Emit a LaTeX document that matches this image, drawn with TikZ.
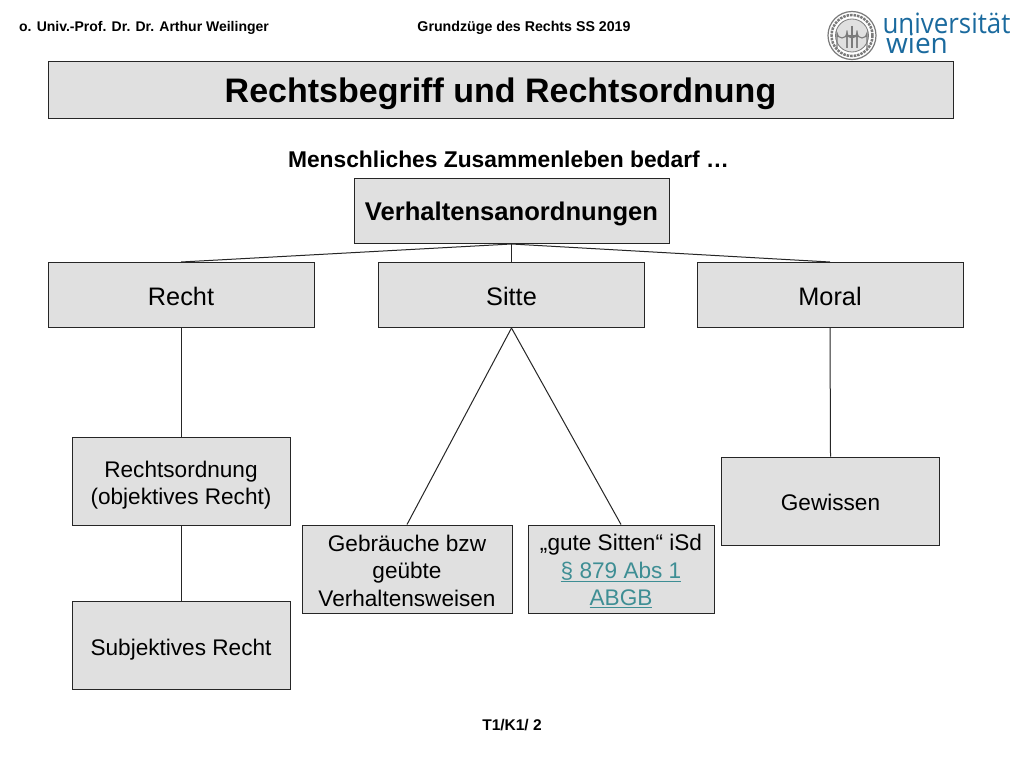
\documentclass[tikz,border=0pt]{standalone}
\usepackage{fontspec}
\setmainfont{Liberation Sans}
\newfontfamily\logofont{Open Sans}
\definecolor{boxgray}{HTML}{E0E0E0}
\definecolor{boxline}{HTML}{262626}
\definecolor{linkteal}{HTML}{3E8E94}
\definecolor{unablue}{HTML}{1A6A9E}
\definecolor{sealgray}{HTML}{7A7A7A}
\newcommand{\linktext}[1]{\textcolor{linkteal}{\underline{#1}}}
\newcommand{\dropline}[1]{\rule{0pt}{#1}}
\tikzset{
  box/.style={draw=boxline, line width=1pt, fill=boxgray, inner sep=0pt, align=center, font=\fontsize{22.6}{27.5}\selectfont},
  bigbox/.style={box, minimum width=266pt, minimum height=65pt, text height=20.3pt, font=\fontsize{25.3}{30}\selectfont},
  smallbox/.style={box, minimum width=218pt, minimum height=88pt},
  head/.style={inner sep=0pt, font=\fontsize{14}{16}\selectfont\bfseries},
  logotext/.style={inner sep=0pt, anchor=base, text=unablue, font=\logofont\fontsize{28}{28}\selectfont},
  link/.style={draw=black!85, line width=1pt}
}
\begin{document}
\begin{tikzpicture}[x=1pt, y=-1pt]
\useasboundingbox (0,0) rectangle (1024,768);
\fill[white] (0,0) rectangle (1024,768);
% header
\node[head] (lecturer) at (144,27.5) {o. Univ.-Prof. Dr. Dr. Arthur Weilinger};
\node[head, font=\fontsize{14.2}{16}\selectfont\bfseries] (course) at (524,27.5) {Grundzüge des Rechts SS 2019};
\node[head, font=\fontsize{15.5}{16}\selectfont\bfseries] (page) at (512,725.5) {T1/K1/ 2};
% logo
\draw[sealgray, line width=1.2pt, fill=white] (852,35.5) circle (24);
\draw[sealgray, line width=2.5pt, densely dotted] (852,35.5) circle (20.5);
\draw[sealgray, line width=.8pt, fill=black!12] (852,35.5) circle (16.5);
\foreach \sx in {-10,0,10}
  \draw[sealgray, line width=1.1pt] (852+\sx-5,48) -- (852+\sx-5,33) arc[start angle=180, end angle=0, radius=5] -- (852+\sx+5,48);
\draw[sealgray, line width=2pt] (852,26) -- (852,48) (846,36) -- (858,36);
\node[logotext, xscale=.925] (uni) at (946.5,34) {universität};
\node[logotext] (wien) at (917,54) {wien};
% title
\node[box, minimum width=905pt, minimum height=57pt, text height=33pt, font=\fontsize{34}{36}\selectfont\bfseries] (title) at (500.5,90) {Rechtsbegriff und Rechtsordnung};
\node[inner sep=0pt, font=\fontsize{22.8}{25}\selectfont\bfseries] (needs) at (508.5,159) {Menschliches Zusammenleben bedarf …};
% boxes
\node[bigbox, minimum width=315pt, text height=24.5pt, font=\fontsize{25.6}{30}\selectfont\bfseries] (Verhalten) at (511.5,211) {Verhaltensanordnungen};
\node[bigbox] (Recht) at (181,295) {Recht};
\node[bigbox] (Sitte) at (511.5,295) {Sitte};
\node[bigbox] (Moral) at (830,295) {Moral};
\node[smallbox] (Rechtsordnung) at (181,481) {\dropline{24.5pt}Rechtsordnung\\(objektives Recht)};
\node[smallbox] (Subjektiv) at (181,645.5) {\dropline{24.5pt}Subjektives Recht};
\node[smallbox, minimum width=210pt] (Gebraeuche) at (407,569) {\dropline{19.5pt}Gebräuche bzw\\geübte\\Verhaltensweisen};
\node[smallbox, minimum width=186pt] (Gute) at (621,569) {\dropline{20.5pt}„gute Sitten“ iSd\\\linktext{§ 879 Abs 1}\\\linktext{ABGB}};
\node[smallbox] (Gewissen) at (830.5,501) {\dropline{18.5pt}Gewissen};
% connectors
\draw[link] (Verhalten.south) -- (Recht.north);
\draw[link] (Verhalten.south) -- (Sitte.north);
\draw[link] (Verhalten.south) -- (Moral.north);
\draw[link] (Recht.south) -- (Rechtsordnung.north);
\draw[link] (Rechtsordnung.south) -- (Subjektiv.north);
\draw[link] (Sitte.south) -- (Gebraeuche.north);
\draw[link] (Sitte.south) -- (Gute.north);
\draw[link] (Moral.south) -- (Gewissen.north);
\end{tikzpicture}
\end{document}
